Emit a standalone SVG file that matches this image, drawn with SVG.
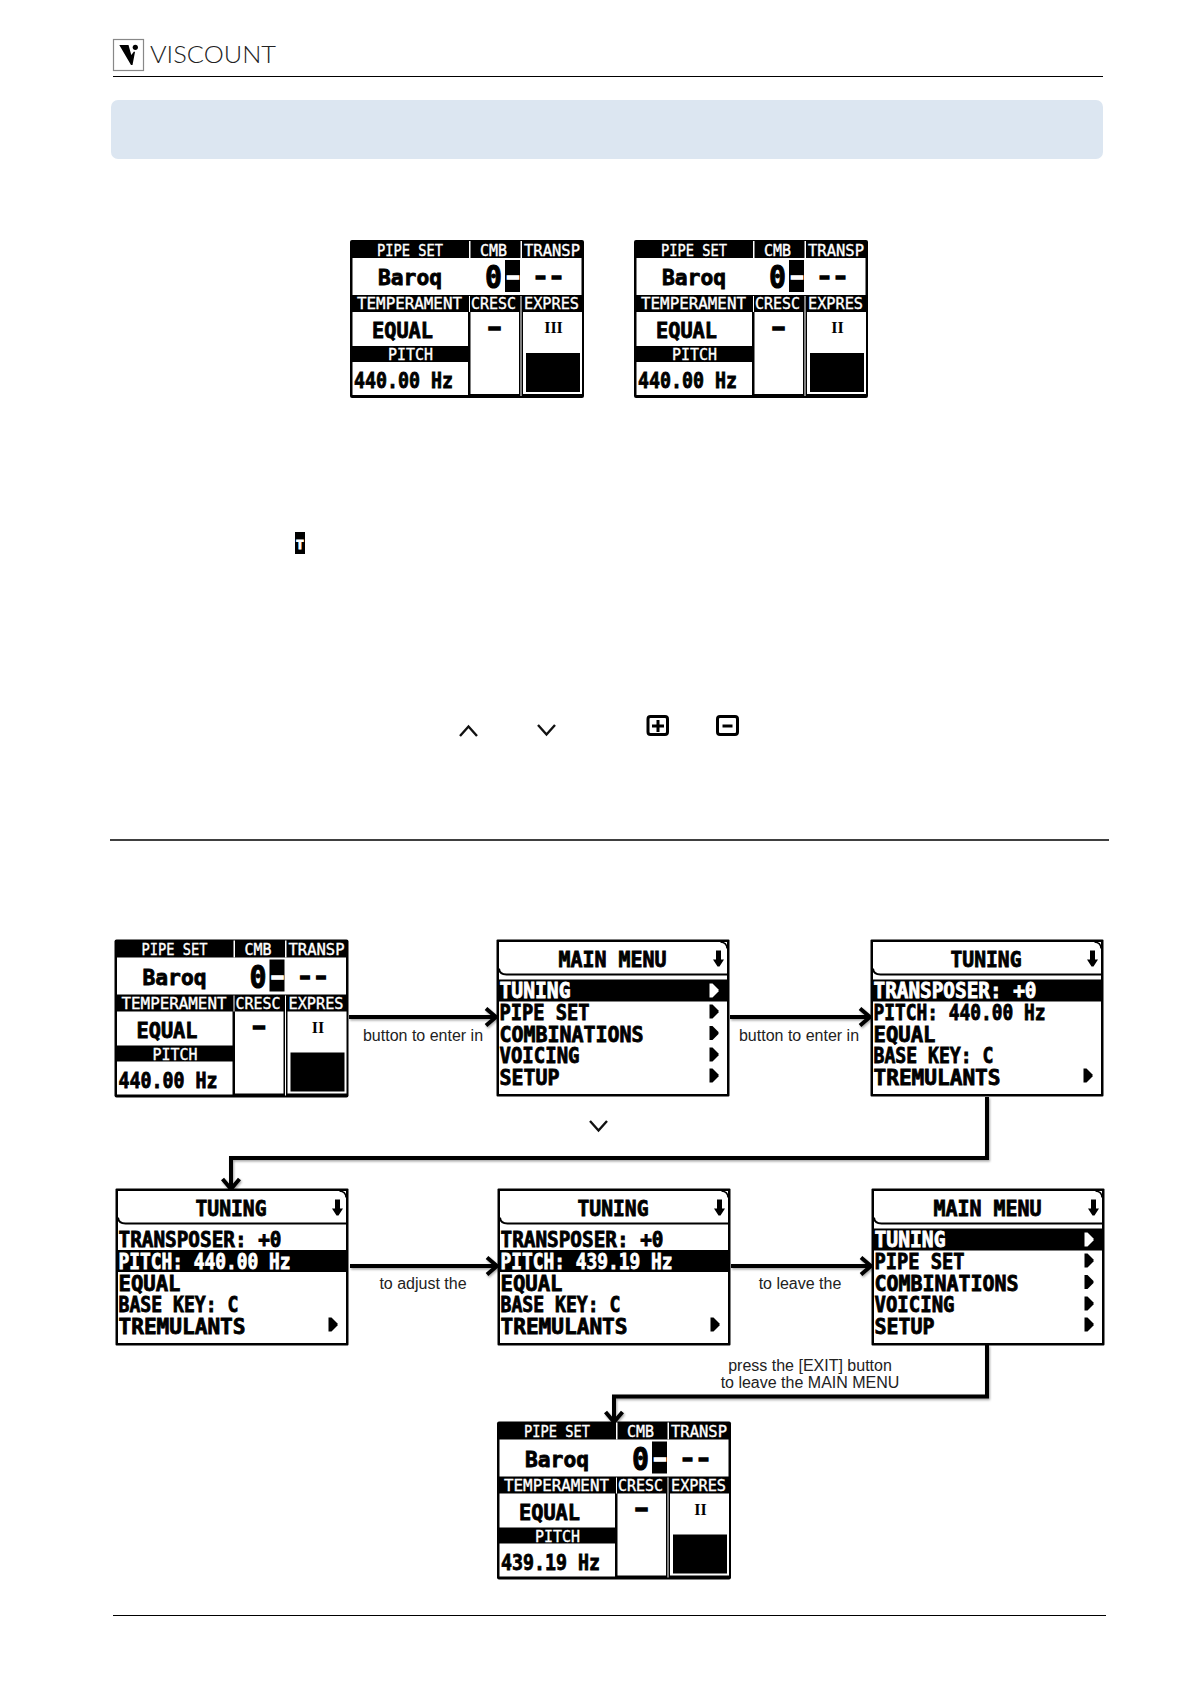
<svg xmlns="http://www.w3.org/2000/svg" width="1191" height="1684" viewBox="0 0 1191 1684">
<style>
text{font-family:"DejaVu Sans Mono","Liberation Mono",monospace}
.h{font-size:15px;fill:#fff;stroke:#fff;stroke-width:.35}
.big{font-size:21px;font-weight:700;fill:#000;stroke:#000;stroke-width:.8}
.m{font-size:20.500px;font-weight:700;fill:#000;stroke:#000;stroke-width:.8}
.z{font-size:32px;font-weight:700;fill:#000;stroke:#000;stroke-width:1}
.d{font-size:22px;font-weight:700;fill:#000;stroke:#000;stroke-width:1.600}
.w{fill:#fff;stroke:#fff}
.lab{font-family:"Liberation Sans",Arial,sans-serif;font-size:16px;fill:#222;text-anchor:middle}
.rom{font-family:"Liberation Serif","DejaVu Serif",serif;font-size:16px;font-weight:700;fill:#000;text-anchor:middle}
.con{fill:none;stroke:#000;stroke-width:4;filter:url(#sh)}
.chev{fill:none;stroke:#111;stroke-width:2.400}
</style>
<defs>
<filter id="sh" x="0" y="0" width="1191" height="1684" filterUnits="userSpaceOnUse"><feDropShadow dx="1" dy="1.500" stdDeviation="1" flood-color="#000" flood-opacity=".35"/></filter>
<marker id="ah" viewBox="0 0 16 20" refX="13" refY="10" markerWidth="16" markerHeight="20" markerUnits="userSpaceOnUse" orient="auto"><path d="M3 1.500 13 10 3 18.500" fill="none" stroke="#000" stroke-width="4"/></marker>
<g id="stBase">
<rect width="234" height="158" rx="2" fill="#000"/>
<rect x="119" y="1" width="1.500" height="17" fill="#fff"/><rect x="170.500" y="1" width="1.500" height="17" fill="#fff"/>
<rect x="2.500" y="18" width="229" height="37" fill="#fff"/>
<rect x="2.500" y="72" width="115.500" height="34" fill="#fff"/>
<rect x="2.500" y="122" width="115.500" height="33" fill="#fff"/>
<rect x="120.500" y="72" width="48.500" height="82" fill="#fff"/>
<rect x="173" y="72" width="59" height="82" fill="#fff"/>
<rect x="170.500" y="56" width="1" height="100" fill="#fff"/>
<rect x="119" y="56" width="1" height="16" fill="#fff"/>
<rect x="176" y="113" width="54" height="39" fill="#000"/>
<rect x="155" y="20" width="15" height="32" fill="#000"/>
</g>
<g id="menuBase">
<rect width="233" height="157" rx="1" fill="#000"/>
<rect x="2.500" y="2.500" width="228" height="152" fill="#fff"/>
<path d="M2.500 29Q3 35 10 35H230.500" fill="none" stroke="#000" stroke-width="2"/>
<path d="M224 2.500Q230.500 3 230.500 9" fill="none" stroke="#000" stroke-width="1.500"/>
</g>
<polygon id="tri" points="0,-7 3,-7 9,-1 9,1 3,7 0,7" fill="#000"/>
<polygon id="triw" points="0,-7 3,-7 9,-1 9,1 3,7 0,7" fill="#fff"/>
<path id="dn" d="M-2.500 0H2.500V9H5.500L1 16H-1L-5.500 9H-2.500Z" fill="#000"/>
</defs>

<g id="logo">
<rect x="113.500" y="39.500" width="30" height="31" fill="#fff" stroke="#888" stroke-width="1.200"/>
<path d="M119.300 45H128.500L131.300 55L134 51.500 135 52 132.500 65H131Z" fill="#000"/><circle cx="135.300" cy="47.300" r="2.600" fill="#000"/>
<text x="150" y="63" font-size="22.500" fill="#222" textLength="126" lengthAdjust="spacingAndGlyphs" style="font-family:Lato,'Open Sans',sans-serif;font-weight:300">VISCOUNT</text>
</g>
<g id="page">
<line x1="113" y1="76.500" x2="1103" y2="76.500" stroke="#000" stroke-width="1"/>
<rect x="111" y="100" width="992" height="59" rx="7" fill="#dce6f1"/>
<line x1="110" y1="840" x2="1109" y2="840" stroke="#000" stroke-width="1.600"/>
<line x1="113" y1="1615.500" x2="1106" y2="1615.500" stroke="#000" stroke-width="1"/>
</g>
<g id="icons">
<rect x="295" y="532" width="10" height="22" fill="#000"/><text x="300" y="549" font-size="13" font-weight="700" class="w" text-anchor="middle">T</text>
<path class="chev" d="M460 736 468.500 726.500 477 736"/>
<path class="chev" d="M538 725 546.500 734.500 555 725"/>
<path class="chev" d="M590 1121 598.500 1130.500 607 1121"/>
<g id="plus" fill="none" stroke="#000" stroke-width="3"><rect x="648" y="716.500" width="19.500" height="18" rx="2.500"/><path d="M658 720V732M652 726H664"/></g>
<g id="minus" fill="none" stroke="#000" stroke-width="3"><rect x="717.500" y="716.500" width="20" height="18" rx="2.500"/><path d="M722.500 726H732.500"/></g>
</g>

<g id="connectors">
<path class="con" marker-end="url(#ah)" d="M349 1017H496"/>
<path class="con" marker-end="url(#ah)" d="M730 1017H870"/>
<path class="con" marker-end="url(#ah)" d="M987 1097V1158H231V1189"/>
<path class="con" marker-end="url(#ah)" d="M350 1266H497"/>
<path class="con" marker-end="url(#ah)" d="M731 1266H871"/>
<path class="con" marker-end="url(#ah)" d="M987 1345V1396.500H614V1422"/>
</g>
<g id="labels">
<text class="lab" x="423" y="1041">button to enter in</text>
<text class="lab" x="799" y="1041">button to enter in</text>
<text class="lab" x="423" y="1289">to adjust the</text>
<text class="lab" x="800" y="1289">to leave the</text>
<text class="lab" x="810" y="1371">press the [EXIT] button</text>
<text class="lab" x="810" y="1388">to leave the MAIN MENU</text>
</g>

<g id="status1" transform="translate(350 240)">
<use href="#stBase"/>
<text class="h" x="27" y="15.500" textLength="66" lengthAdjust="spacingAndGlyphs">PIPE SET</text><text class="h" x="130" y="15.500" textLength="27" lengthAdjust="spacingAndGlyphs">CMB</text><text class="h" x="174" y="15.500" textLength="56" lengthAdjust="spacingAndGlyphs">TRANSP</text>
<text class="big" x="28" y="45" textLength="64" lengthAdjust="spacingAndGlyphs">Baroq</text>
<text class="z" x="135" y="48" textLength="17" lengthAdjust="spacingAndGlyphs">0</text>
<text class="d w" x="153" y="44" textLength="20" lengthAdjust="spacingAndGlyphs">-</text>
<text class="d" x="182.500" y="44" textLength="32" lengthAdjust="spacingAndGlyphs">--</text>
<text class="h" x="7" y="69" textLength="105" lengthAdjust="spacingAndGlyphs">TEMPERAMENT</text><text class="h" x="121" y="69" textLength="45" lengthAdjust="spacingAndGlyphs">CRESC</text><text class="h" x="174" y="69" textLength="55" lengthAdjust="spacingAndGlyphs">EXPRES</text>
<text class="big" x="22" y="98" textLength="61" lengthAdjust="spacingAndGlyphs">EQUAL</text>
<text class="d" x="134.500" y="94.500" textLength="20" lengthAdjust="spacingAndGlyphs">-</text>
<text class="rom" x="203.500" y="93">III</text>
<text class="h" x="38" y="120" textLength="45" lengthAdjust="spacingAndGlyphs">PITCH</text>
<text class="big" x="4" y="148" textLength="99" lengthAdjust="spacingAndGlyphs">440.00 Hz</text>
</g>

<g id="status2" transform="translate(634 240)">
<use href="#stBase"/>
<text class="h" x="27" y="15.500" textLength="66" lengthAdjust="spacingAndGlyphs">PIPE SET</text><text class="h" x="130" y="15.500" textLength="27" lengthAdjust="spacingAndGlyphs">CMB</text><text class="h" x="174" y="15.500" textLength="56" lengthAdjust="spacingAndGlyphs">TRANSP</text>
<text class="big" x="28" y="45" textLength="64" lengthAdjust="spacingAndGlyphs">Baroq</text>
<text class="z" x="135" y="48" textLength="17" lengthAdjust="spacingAndGlyphs">0</text>
<text class="d w" x="153" y="44" textLength="20" lengthAdjust="spacingAndGlyphs">-</text>
<text class="d" x="182.500" y="44" textLength="32" lengthAdjust="spacingAndGlyphs">--</text>
<text class="h" x="7" y="69" textLength="105" lengthAdjust="spacingAndGlyphs">TEMPERAMENT</text><text class="h" x="121" y="69" textLength="45" lengthAdjust="spacingAndGlyphs">CRESC</text><text class="h" x="174" y="69" textLength="55" lengthAdjust="spacingAndGlyphs">EXPRES</text>
<text class="big" x="22" y="98" textLength="61" lengthAdjust="spacingAndGlyphs">EQUAL</text>
<text class="d" x="134.500" y="94.500" textLength="20" lengthAdjust="spacingAndGlyphs">-</text>
<text class="rom" x="203.500" y="93">II</text>
<text class="h" x="38" y="120" textLength="45" lengthAdjust="spacingAndGlyphs">PITCH</text>
<text class="big" x="4" y="148" textLength="99" lengthAdjust="spacingAndGlyphs">440.00 Hz</text>
</g>

<g id="status3" transform="translate(114.500 939.500)">
<use href="#stBase"/>
<text class="h" x="27" y="15.500" textLength="66" lengthAdjust="spacingAndGlyphs">PIPE SET</text><text class="h" x="130" y="15.500" textLength="27" lengthAdjust="spacingAndGlyphs">CMB</text><text class="h" x="174" y="15.500" textLength="56" lengthAdjust="spacingAndGlyphs">TRANSP</text>
<text class="big" x="28" y="45" textLength="64" lengthAdjust="spacingAndGlyphs">Baroq</text>
<text class="z" x="135" y="48" textLength="17" lengthAdjust="spacingAndGlyphs">0</text>
<text class="d w" x="153" y="44" textLength="20" lengthAdjust="spacingAndGlyphs">-</text>
<text class="d" x="182.500" y="44" textLength="32" lengthAdjust="spacingAndGlyphs">--</text>
<text class="h" x="7" y="69" textLength="105" lengthAdjust="spacingAndGlyphs">TEMPERAMENT</text><text class="h" x="121" y="69" textLength="45" lengthAdjust="spacingAndGlyphs">CRESC</text><text class="h" x="174" y="69" textLength="55" lengthAdjust="spacingAndGlyphs">EXPRES</text>
<text class="big" x="22" y="98" textLength="61" lengthAdjust="spacingAndGlyphs">EQUAL</text>
<text class="d" x="134.500" y="94.500" textLength="20" lengthAdjust="spacingAndGlyphs">-</text>
<text class="rom" x="203.500" y="93">II</text>
<text class="h" x="38" y="120" textLength="45" lengthAdjust="spacingAndGlyphs">PITCH</text>
<text class="big" x="4" y="148" textLength="99" lengthAdjust="spacingAndGlyphs">440.00 Hz</text>
</g>

<g id="status4" transform="translate(497 1421.500)">
<use href="#stBase"/>
<text class="h" x="27" y="15.500" textLength="66" lengthAdjust="spacingAndGlyphs">PIPE SET</text><text class="h" x="130" y="15.500" textLength="27" lengthAdjust="spacingAndGlyphs">CMB</text><text class="h" x="174" y="15.500" textLength="56" lengthAdjust="spacingAndGlyphs">TRANSP</text>
<text class="big" x="28" y="45" textLength="64" lengthAdjust="spacingAndGlyphs">Baroq</text>
<text class="z" x="135" y="48" textLength="17" lengthAdjust="spacingAndGlyphs">0</text>
<text class="d w" x="153" y="44" textLength="20" lengthAdjust="spacingAndGlyphs">-</text>
<text class="d" x="182.500" y="44" textLength="32" lengthAdjust="spacingAndGlyphs">--</text>
<text class="h" x="7" y="69" textLength="105" lengthAdjust="spacingAndGlyphs">TEMPERAMENT</text><text class="h" x="121" y="69" textLength="45" lengthAdjust="spacingAndGlyphs">CRESC</text><text class="h" x="174" y="69" textLength="55" lengthAdjust="spacingAndGlyphs">EXPRES</text>
<text class="big" x="22" y="98" textLength="61" lengthAdjust="spacingAndGlyphs">EQUAL</text>
<text class="d" x="134.500" y="94.500" textLength="20" lengthAdjust="spacingAndGlyphs">-</text>
<text class="rom" x="203.500" y="93">II</text>
<text class="h" x="38" y="120" textLength="45" lengthAdjust="spacingAndGlyphs">PITCH</text>
<text class="big" x="4" y="148" textLength="99" lengthAdjust="spacingAndGlyphs">439.19 Hz</text>
</g>

<g id="menu1" transform="translate(496.500 939.500)">
<use href="#menuBase"/><rect x="2" y="40" width="229" height="22" fill="#000"/>
<text class="m" x="62" y="27" textLength="108" lengthAdjust="spacingAndGlyphs">MAIN MENU</text><use href="#dn" x="222" y="11"/>
<text class="m w" x="3" y="58.500" textLength="71" lengthAdjust="spacingAndGlyphs">TUNING</text><use href="#triw" x="213" y="51"/>
<text class="m" x="3" y="80.500" textLength="90" lengthAdjust="spacingAndGlyphs">PIPE SET</text><use href="#tri" x="213" y="72"/>
<text class="m" x="3" y="102" textLength="144" lengthAdjust="spacingAndGlyphs">COMBINATIONS</text><use href="#tri" x="213" y="93.500"/>
<text class="m" x="3" y="123.500" textLength="80" lengthAdjust="spacingAndGlyphs">VOICING</text><use href="#tri" x="213" y="115"/>
<text class="m" x="3" y="145" textLength="60" lengthAdjust="spacingAndGlyphs">SETUP</text><use href="#tri" x="213" y="136"/>
</g>

<g id="tuning1" transform="translate(870.500 939.500)">
<use href="#menuBase"/><rect x="2" y="40" width="229" height="22" fill="#000"/>
<text class="m" x="80" y="27" textLength="71" lengthAdjust="spacingAndGlyphs">TUNING</text><use href="#dn" x="222" y="11"/>
<text class="m w" x="3" y="58.500" textLength="163" lengthAdjust="spacingAndGlyphs">TRANSPOSER: +0</text>
<text class="m" x="3" y="80.500" textLength="172" lengthAdjust="spacingAndGlyphs">PITCH: 440.00 Hz</text>
<text class="m" x="3" y="102" textLength="62" lengthAdjust="spacingAndGlyphs">EQUAL</text>
<text class="m" x="3" y="123.500" textLength="120" lengthAdjust="spacingAndGlyphs">BASE KEY: C</text>
<text class="m" x="3" y="145" textLength="127" lengthAdjust="spacingAndGlyphs">TREMULANTS</text><use href="#tri" x="213" y="136"/>
</g>

<g id="tuning2" transform="translate(115.500 1188.500)">
<use href="#menuBase"/><rect x="2" y="61.500" width="229" height="22" fill="#000"/>
<text class="m" x="80" y="27" textLength="71" lengthAdjust="spacingAndGlyphs">TUNING</text><use href="#dn" x="222" y="11"/>
<text class="m" x="3" y="58.500" textLength="163" lengthAdjust="spacingAndGlyphs">TRANSPOSER: +0</text>
<text class="m w" x="3" y="80.500" textLength="172" lengthAdjust="spacingAndGlyphs">PITCH: 440.00 Hz</text>
<text class="m" x="3" y="102" textLength="62" lengthAdjust="spacingAndGlyphs">EQUAL</text>
<text class="m" x="3" y="123.500" textLength="120" lengthAdjust="spacingAndGlyphs">BASE KEY: C</text>
<text class="m" x="3" y="145" textLength="127" lengthAdjust="spacingAndGlyphs">TREMULANTS</text><use href="#tri" x="213" y="136"/>
</g>

<g id="tuning3" transform="translate(497.500 1188.500)">
<use href="#menuBase"/><rect x="2" y="61.500" width="229" height="22" fill="#000"/>
<text class="m" x="80" y="27" textLength="71" lengthAdjust="spacingAndGlyphs">TUNING</text><use href="#dn" x="222" y="11"/>
<text class="m" x="3" y="58.500" textLength="163" lengthAdjust="spacingAndGlyphs">TRANSPOSER: +0</text>
<text class="m w" x="3" y="80.500" textLength="172" lengthAdjust="spacingAndGlyphs">PITCH: 439.19 Hz</text>
<text class="m" x="3" y="102" textLength="62" lengthAdjust="spacingAndGlyphs">EQUAL</text>
<text class="m" x="3" y="123.500" textLength="120" lengthAdjust="spacingAndGlyphs">BASE KEY: C</text>
<text class="m" x="3" y="145" textLength="127" lengthAdjust="spacingAndGlyphs">TREMULANTS</text><use href="#tri" x="213" y="136"/>
</g>

<g id="menu2" transform="translate(871.500 1188.500)">
<use href="#menuBase"/><rect x="2" y="40" width="229" height="22" fill="#000"/>
<text class="m" x="62" y="27" textLength="108" lengthAdjust="spacingAndGlyphs">MAIN MENU</text><use href="#dn" x="222" y="11"/>
<text class="m w" x="3" y="58.500" textLength="71" lengthAdjust="spacingAndGlyphs">TUNING</text><use href="#triw" x="213" y="51"/>
<text class="m" x="3" y="80.500" textLength="90" lengthAdjust="spacingAndGlyphs">PIPE SET</text><use href="#tri" x="213" y="72"/>
<text class="m" x="3" y="102" textLength="144" lengthAdjust="spacingAndGlyphs">COMBINATIONS</text><use href="#tri" x="213" y="93.500"/>
<text class="m" x="3" y="123.500" textLength="80" lengthAdjust="spacingAndGlyphs">VOICING</text><use href="#tri" x="213" y="115"/>
<text class="m" x="3" y="145" textLength="60" lengthAdjust="spacingAndGlyphs">SETUP</text><use href="#tri" x="213" y="136"/>
</g>
</svg>
